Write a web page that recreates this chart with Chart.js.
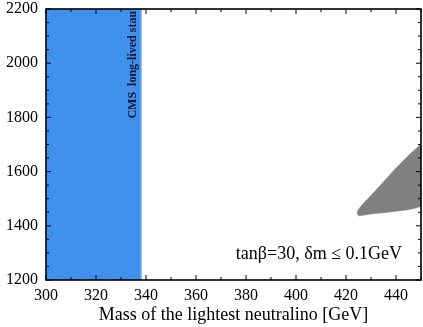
<!DOCTYPE html>
<html>
<head>
<meta charset="utf-8">
<script src="https://cdn.jsdelivr.net/npm/chart.js@4/dist/chart.umd.min.js"></script>
<style>
  html, body { margin: 0; padding: 0; background: #fff; }
  #wrap { width: 423px; height: 327px; }
</style>
</head>
<body>
<div id="wrap"><canvas id="chart" width="423" height="327"></canvas></div>
<script>
  // axis ranges and ticks
  var xRange = [300, 450];
  var yRange = [1200, 2200];
  var xTicks = [300, 320, 340, 360, 380, 400, 420, 440];
  var yTicks = [1200, 1400, 1600, 1800, 2000, 2200];
  var xMinor = [310, 330, 350, 370, 390, 410, 430, 450];
  var yMinor = [1250, 1300, 1350, 1450, 1500, 1550, 1650, 1700, 1750, 1850, 1900, 1950, 2050, 2100, 2150];

  // CMS long-lived stau exclusion (neutralino mass < 338 GeV)
  var cmsX = [300, 300, 338, 338];
  var cmsY = [1200, 2200, 2200, 1200];

  // allowed region (grey), outline traced clockwise from the tip
  var allowX = [425.2, 455, 455, 449.6, 445.2, 441.2, 437.2, 433.2, 429.2, 426.4, 424.5, 424.6];
  var allowY = [1436, 1498, 1743, 1698, 1661, 1624, 1585, 1544, 1504, 1477, 1452, 1442];

  var FONT = "'Liberation Serif', 'Times New Roman', serif";

  function pts(xs, ys){ return xs.map(function(x, i){ return { x: x, y: ys[i] }; }); }

  var frameTicks = {
    id: "frameTicks",
    afterDatasetsDraw: function(chart){
      var ctx = chart.ctx, a = chart.chartArea;
      var sx = chart.scales.x, sy = chart.scales.y;
      ctx.save();
      ctx.strokeStyle = "#000";
      ctx.lineWidth = 1;
      function tx(v, len){
        var p = sx.getPixelForValue(v);
        ctx.beginPath();
        ctx.moveTo(p, a.bottom); ctx.lineTo(p, a.bottom - len);
        ctx.moveTo(p, a.top); ctx.lineTo(p, a.top + len);
        ctx.stroke();
      }
      function ty(v, len){
        var p = sy.getPixelForValue(v);
        ctx.beginPath();
        ctx.moveTo(a.left, p); ctx.lineTo(a.left + len, p);
        ctx.moveTo(a.right, p); ctx.lineTo(a.right - len, p);
        ctx.stroke();
      }
      xTicks.forEach(function(v){ tx(v, 5); });
      xMinor.forEach(function(v){ tx(v, 3); });
      yTicks.forEach(function(v){ ty(v, 5); });
      yMinor.forEach(function(v){ ty(v, 3); });
      ctx.lineWidth = 1.6;
      ctx.strokeRect(a.left, a.top, a.right - a.left, a.bottom - a.top);

      // labels
      ctx.fillStyle = "#0b1733";
      ctx.font = "bold 12px " + FONT;
      ctx.save();
      ctx.translate(sx.getPixelForValue(334.7), sy.getPixelForValue(2193));
      ctx.rotate(-Math.PI / 2);
      ctx.textAlign = "right";
      ctx.textBaseline = "middle";
      ctx.fillText("CMS  long-lived stau", 0, 0);
      ctx.restore();

      ctx.fillStyle = "#000";
      ctx.font = "18px " + FONT;
      ctx.textAlign = "right";
      ctx.textBaseline = "alphabetic";
      ctx.fillText("tan\u03b2=30, \u03b4m \u2264 0.1GeV", sx.getPixelForValue(442.4), sy.getPixelForValue(1277));
      ctx.restore();
    }
  };

  new Chart(document.getElementById("chart"), {
    type: "scatter",
    data: {
      datasets: [{
        data: pts(cmsX, cmsY),
        showLine: true,
        fill: "shape",
        backgroundColor: "#4090ed",
        borderColor: "#6aaaf2",
        borderWidth: 1.5,
        pointRadius: 0,
        tension: 0
      }, {
        data: pts(allowX, allowY),
        showLine: true,
        fill: "shape",
        backgroundColor: "#808080",
        borderColor: "#808080",
        borderWidth: 0.5,
        pointRadius: 0,
        tension: 0.3
      }]
    },
    options: {
      responsive: false,
      animation: false,
      layout: { padding: { top: 9, right: 2, left: 0, bottom: 0 } },
      plugins: { legend: { display: false }, tooltip: { enabled: false } },
      scales: {
        x: {
          type: "linear", min: xRange[0], max: xRange[1],
          grid: { display: false, drawTicks: false },
          border: { display: false },
          afterBuildTicks: function(s){ s.ticks = xTicks.map(function(v){ return { value: v }; }); },
          afterFit: function(s){ s.height = 47; s.paddingLeft = 0; s.paddingRight = 0; },
          ticks: { color: "#000", font: { family: FONT, size: 16 }, padding: 6, maxRotation: 0,
                   callback: function(v){ return String(v); } },
          title: { display: true, text: "Mass of the lightest neutralino [GeV]", color: "#000",
                   font: { family: FONT, size: 18 }, padding: { top: 0, bottom: 1 } }
        },
        y: {
          type: "linear", min: yRange[0], max: yRange[1],
          grid: { display: false, drawTicks: false },
          border: { display: false },
          afterBuildTicks: function(s){ s.ticks = yTicks.map(function(v){ return { value: v }; }); },
          afterFit: function(s){ s.width = 46; s.paddingTop = 0; s.paddingBottom = 0; },
          ticks: { color: "#000", font: { family: FONT, size: 16 }, padding: 8,
                   callback: function(v){ return String(v); } }
        }
      }
    },
    plugins: [frameTicks]
  });
</script>
</body>
</html>
